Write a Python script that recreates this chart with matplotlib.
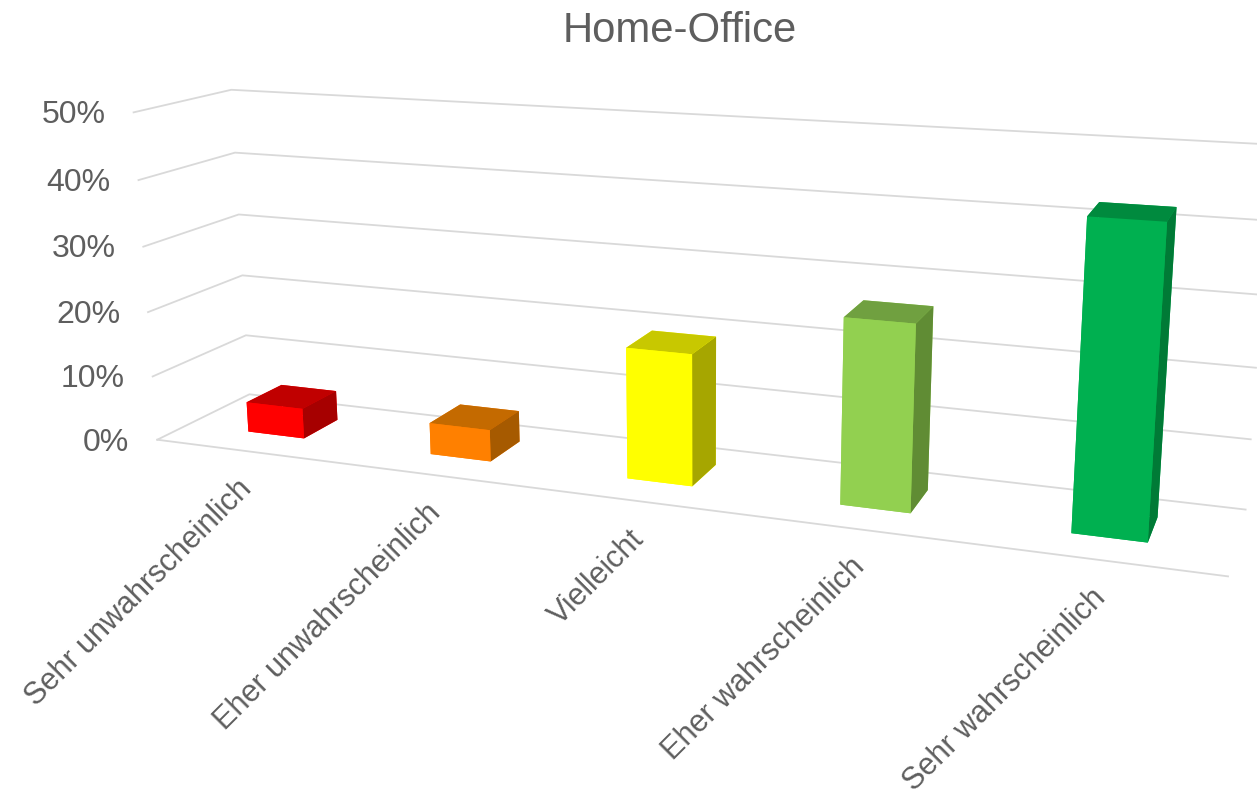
import numpy as np
import matplotlib
matplotlib.use("Agg")
import matplotlib.pyplot as plt
from mpl_toolkits.mplot3d import proj3d

plt.rcParams['font.family'] = ['Liberation Sans', 'DejaVu Sans']

categories = ['Sehr unwahrscheinlich', 'Eher unwahrscheinlich', 'Vielleicht',
              'Eher wahrscheinlich', 'Sehr wahrscheinlich']
values = [4.7, 4.8, 19.3, 26.5, 42.4]
z_ticks = [0, 10, 20, 30, 40, 50]

front_colors = ['#FF0000', '#FF8000', '#FFFF00', '#92D050', '#00B050']
top_colors = ['#C00000', '#C46A00', '#C8C800', '#70A040', '#008A3E']
side_colors = ['#A60000', '#A65A00', '#A6A600', '#608C34', '#007A36']

W, H = 1257, 798
S = 1600  # big square axes so nothing gets clipped
text_color = '#5E5E5E'
grid_color = '#D9D9D9'

fig = plt.figure(figsize=(W/100, H/100), dpi=100)
cx, cy = 648.42, 325.60
ax = fig.add_axes([(cx-S/2)/W, 1-(cy+S/2)/H, S/W, S/H], projection='3d')
ax.set_xlim(0, 5)
ax.set_ylim(0, 1)
ax.set_zlim(0, 50)
ax.view_init(14.158, -69.124, 0.235)
ax.set_proj_type('persp', focal_length=0.2236)
ax.set_box_aspect((1, 0.1612, 0.3182), zoom=0.7203)
ax.set_axis_off()

# gridlines on the left and back wall, then the front edge of the floor
for v in z_ticks:
    ax.plot([0, 0, len(categories)], [0, 1, 1], [v, v, v], color=grid_color, lw=1.3)
ax.plot([0, len(categories)], [0, 0], [0, 0], color=grid_color, lw=1.3)

bar_w, y0, y1 = 0.3131, 0.3254, 0.7175
for i, v in enumerate(values):
    # face order in bar3d: bottom, top, front, back, left, right
    faces = [front_colors[i], top_colors[i], front_colors[i],
             front_colors[i], front_colors[i], side_colors[i]]
    ax.bar3d(i+0.5-bar_w/2, y0, 0, bar_w, y1-y0, v, color=faces, shade=False, linewidth=0)


def to_data(x, y, z):
    px, py, _ = proj3d.proj_transform(x, y, z, ax.get_proj())
    return px, py


for v in z_ticks:
    ax.annotate(f'{v}%', to_data(0, 0, v), xytext=(-20, -2), textcoords='offset points',
                ha='right', va='center', fontsize=23, color=text_color)

for i, name in enumerate(categories):
    ax.annotate(name, to_data(i+0.5, 0, 0), xytext=(1, -24), textcoords='offset points',
                ha='right', va='center', rotation=45, rotation_mode='anchor',
                fontsize=22, color=text_color)

fig.text(680/W, 1-31/H, 'Home-Office', ha='center', va='center', fontsize=30.2, color=text_color)

fig.savefig('out.png', dpi=100)
